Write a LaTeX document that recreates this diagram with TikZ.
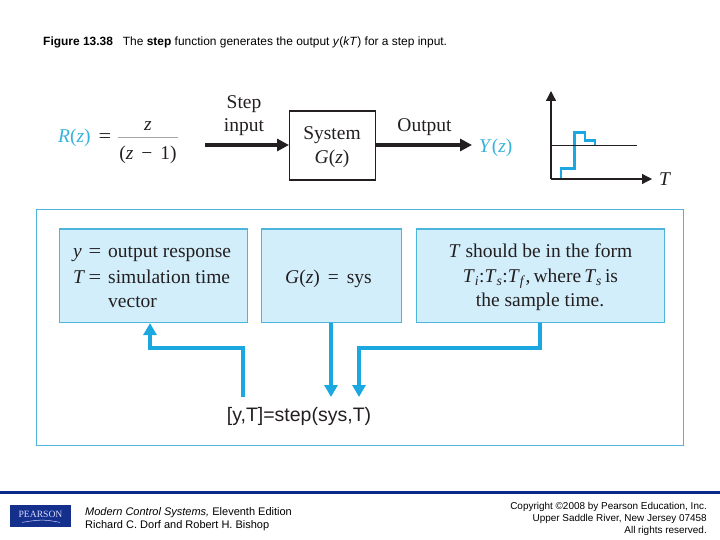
\documentclass[tikz,border=0pt]{standalone}
\usepackage{fontspec}
\setmainfont{Liberation Sans}
\newfontfamily\bookfont{Liberation Serif}
\usetikzlibrary{arrows.meta}
\definecolor{panelfill}{HTML}{D2EEFB}
\definecolor{panelline}{HTML}{4DB5DB}
\definecolor{flowblue}{HTML}{1BA8E0}
\definecolor{formulablue}{HTML}{35B3D9}
\definecolor{darkline}{HTML}{231F20}
\definecolor{pearsonnavy}{HTML}{14308C}
\definecolor{barnavy}{HTML}{0A2A8A}
\tikzset{
  book/.style={font=\bookfont\fontsize{19.5}{24}\selectfont,text=darkline,inner sep=0pt,anchor=base},
  bookleft/.style={book,anchor=base west},
  formula/.style={book,text=formulablue},
  panel/.style={draw=panelline,fill=panelfill,line width=1.1pt,inner sep=0pt,anchor=north west},
  sysbox/.style={draw=darkline,line width=1.2pt,fill=white,inner sep=0pt,anchor=north west},
  darkarrow/.style={draw=darkline,line width=3.2pt,-{Triangle[length=12pt,width=12pt]}},
  axisline/.style={draw=darkline,line width=1.3pt,-{Triangle[length=10pt,width=10pt]}},
  flow/.style={draw=flowblue,line width=3.2pt,-{Triangle[length=12pt,width=13pt]}},
  foot/.style={font=\fontsize{11}{13}\selectfont,text=black,inner sep=0pt},
  copyr/.style={font=\fontsize{9.95}{12}\selectfont,text=black,inner sep=0pt,anchor=base east},
}
\newcommand{\Tsub}[1]{\textit{T}\textsubscript{\textit{#1}}}
\begin{document}
\begin{tikzpicture}[x=1pt,y=-1pt]
\useasboundingbox (0,0) rectangle (720,540);
% title
\node[foot,font=\fontsize{11.95}{14}\selectfont,anchor=base west] (title) at (43,46) {\textbf{Figure 13.38}\hspace{10pt}The \textbf{step} function generates the output \textit{y}(\textit{kT}) for a step input.};
% top block diagram
\node[sysbox,minimum width=86pt,minimum height=69pt] (sys) at (289,110.5) {};
\node[book] (lsystem) at (332,140) {System};
\node[book] (lgz) at (332,164) {\textit{G}(\textit{z})};
\node[formula,anchor=base west] (rz) at (58,143) {\textit{R}(\textit{z})};
\node[book,anchor=base west,xscale=1.15] (rzeq) at (98.5,143) {=};
\node[book] (num) at (148,131) {\textit{z}};
\node[book] (den) at (148,159.5) {(\textit{z}\hspace{3pt} − \hspace{3pt}1)};
\coordinate (barl) at (118,137);
\coordinate (barr) at (178,137);
\draw[gray!70,line width=.9pt] (barl) -- (barr);
\node[book] (lstep) at (244,109) {Step};
\node[book] (linput) at (244,132) {input};
\node[book] (loutput) at (424.5,132) {Output};
\node[formula,anchor=base west] (yz) at (479,153) {\textit{Y}(\textit{z})};
\coordinate (instart) at (205,145);
\coordinate (outend) at (472,145);
\draw[darkarrow] (instart) -- (instart -| sys.west);
\draw[darkarrow] (outend -| sys.east) -- (outend);
% plot
\coordinate (origin) at (551,179);
\coordinate (ytop) at (551,91);
\coordinate (xend) at (652,179);
\coordinate (hl) at (551,145);
\coordinate (hr) at (637,145);
\draw[flowblue,line width=2.4pt] (561,179) -- (561,168.5) -- (574.5,168.5) -- (574.5,132.5) -- (585,132.5) -- (585,140.5) -- (595,140.5) -- (595,145);
\draw[axisline] (origin) -- (ytop);
\draw[axisline] (origin) -- (xend);
\draw[darkline,line width=.9pt] (hl) -- (hr);
\node[book,anchor=base west] (lt) at (659,186) {\textit{T}};
% lower panel
\node[draw=panelline,line width=1.1pt,inner sep=0pt,anchor=north west,minimum width=646.5pt,minimum height=235.5pt] (outer) at (36,209) {};
\node[panel,minimum width=187.5pt,minimum height=93.5pt] (box1) at (59,228.5) {};
\node[panel,minimum width=140pt,minimum height=93.5pt] (box2) at (261,228.5) {};
\node[panel,minimum width=248pt,minimum height=93.5pt] (box3) at (416,228.5) {};
\node[bookleft] (b1a) at (73,258) {\textit{y}};
\node[bookleft,xscale=1.15] (b1ae) at (88.5,258) {=};
\node[bookleft] (b1b) at (108,258) {output response};
\node[bookleft] (b1c) at (73,283) {\textit{T}};
\node[bookleft,xscale=1.15] (b1ce) at (88.5,283) {=};
\node[bookleft] (b1d) at (108,283) {simulation time};
\node[bookleft] (b1e) at (108,307) {vector};
\node[book] (b2) at (328.5,283) {\textit{G}(\textit{z})\hspace{8pt}=\hspace{8pt}sys};
\node[book] (b3a) at (540.5,257) {\textit{T} should be in the form};
\node[book] (b3b) at (540.5,282) {\Tsub{i}:\Tsub{s}:\Tsub{f},\hspace{3pt}where\hspace{3pt}\Tsub{s}\hspace{3pt}is};
\node[book] (b3c) at (540,306) {the sample time.};
\node[font=\fontsize{19.5}{24}\selectfont,text=darkline,inner sep=0pt,anchor=base] (cmd) at (299,421) {[y,T]=step(sys,T)};
\coordinate (f1) at (243,397);
\coordinate (f1b) at (243,348);
\coordinate (f1c) at (150,348);
\coordinate (f2) at (331,397);
\coordinate (f3) at (359,397);
\coordinate (f3b) at (359,348);
\coordinate (f3c) at (540,348);
\draw[flow] (f1) -- (f1b) -- (f1c) -- (f1c |- box1.south);
\draw[flow] (f2 |- box2.south) -- (f2);
\draw[flow] (f3c |- box3.south) -- (f3c) -- (f3b) -- (f3);
% footer
\coordinate (barleft) at (0,492.5);
\coordinate (barright) at (720,492.5);
\draw[barnavy,line width=3pt] (barleft) -- (barright);
\node[fill=pearsonnavy,inner sep=0pt,minimum width=61pt,minimum height=22pt,anchor=north west] (logo) at (10,505) {};
\node[text=white!85!blue,font=\bookfont\fontsize{9.6}{10}\selectfont,inner sep=0pt,anchor=base] (logotext) at (40.5,517.5) {PEARSON};
\draw[white!80!blue,line width=.5pt] ([shift={(12,-5)}]logo.south west) .. controls ([shift={(30,-8)}]logo.south west) and ([shift={(35,-8)}]logo.south west) .. ([shift={(50,-5)}]logo.south west);
\node[foot,anchor=base west] (f1t) at (85,515) {\textit{Modern Control Systems,} Eleventh Edition};
\node[foot,anchor=base west] (f2t) at (85,528) {Richard C. Dorf and Robert H. Bishop};
\node[copyr] (c1t) at (707,509) {Copyright ©2008 by Pearson Education, Inc.};
\node[copyr] (c2t) at (707,521) {Upper Saddle River, New Jersey 07458};
\node[copyr] (c3t) at (707,533) {All rights reserved.};
\end{tikzpicture}
\end{document}
